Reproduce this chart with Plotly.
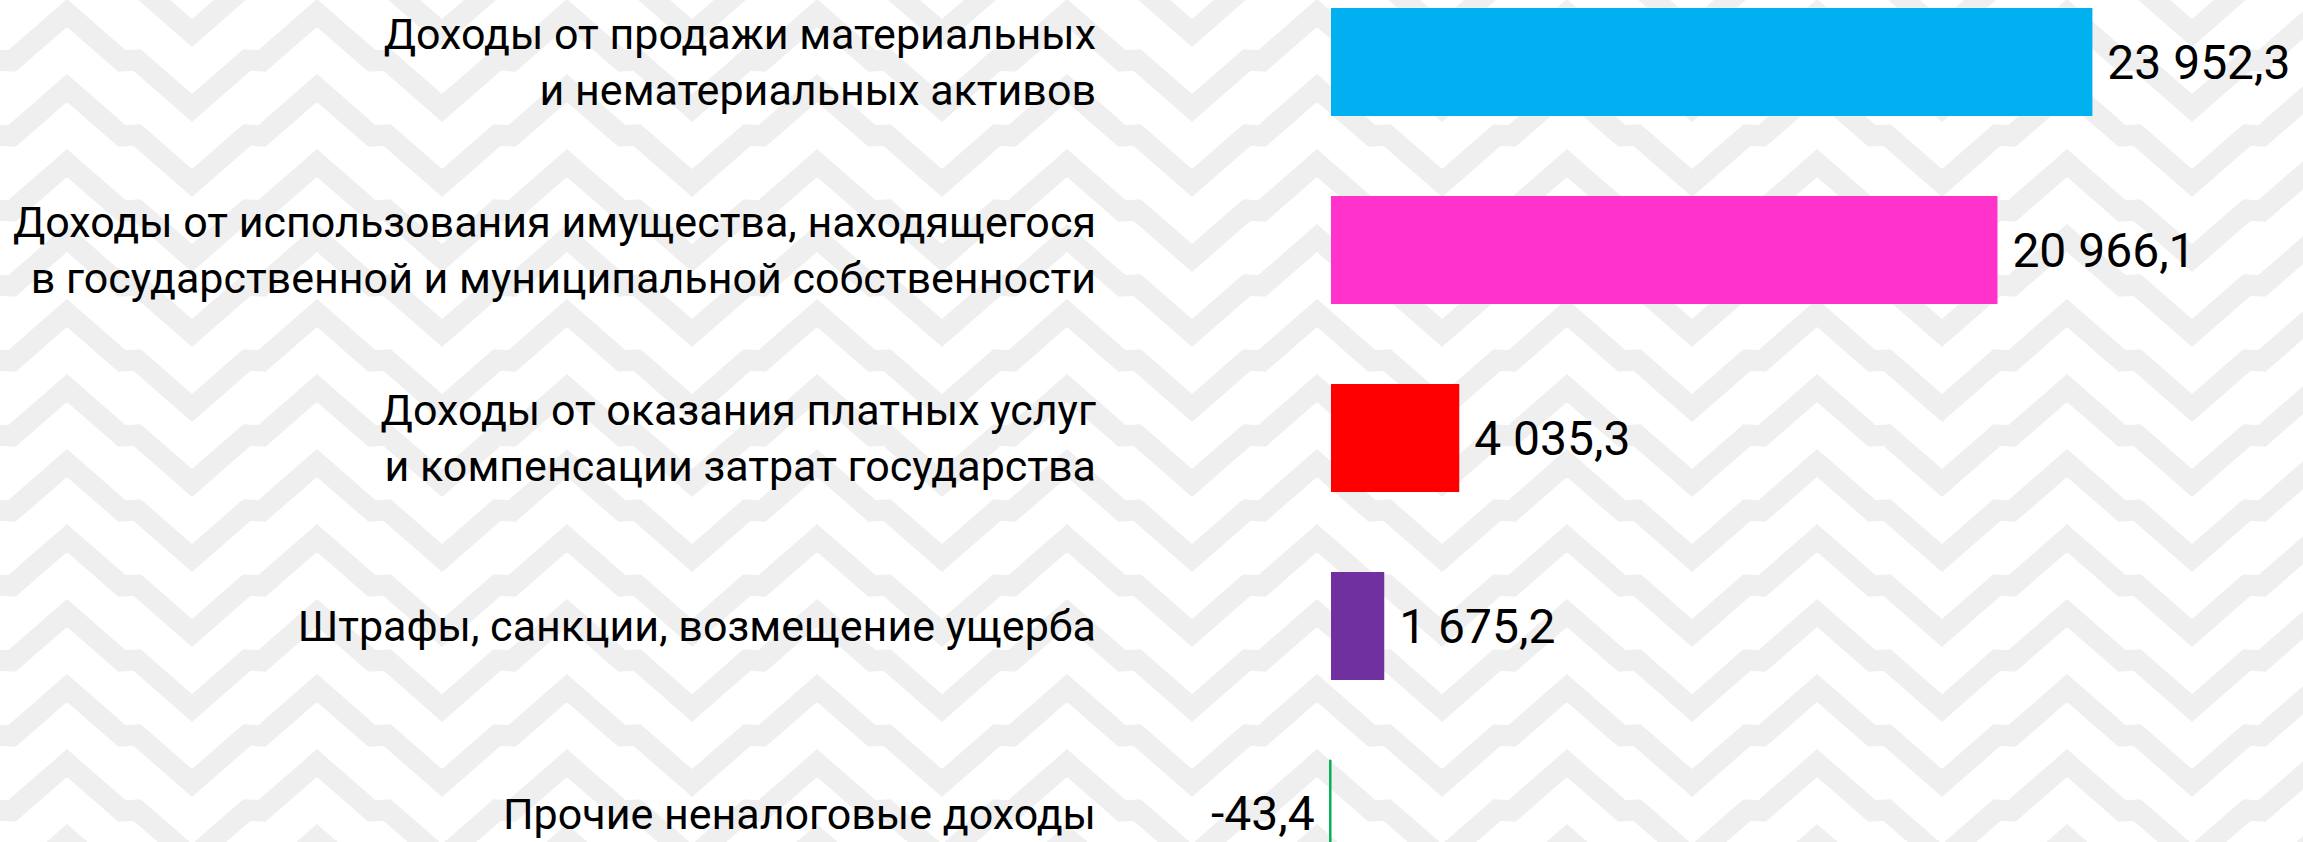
import plotly.graph_objects as go

# Данные (тыс. руб.)
categories = [
    "Доходы от продажи материальных<br>и нематериальных активов",
    "Доходы от использования имущества, находящегося<br>в государственной и муниципальной собственности",
    "Доходы от оказания платных услуг<br>и компенсации затрат государства",
    "Штрафы, санкции, возмещение ущерба",
    "Прочие неналоговые доходы",
]
values = [23952.3, 20966.1, 4035.3, 1675.2, -43.4]
colors = ["#00B0F0", "#FF33CC", "#FF0000", "#7030A0", "#00B050"]

W, H = 2303, 842
L = 1097  # левое поле под подписи категорий

def fmt(v):
    s = f"{abs(v):,.1f}".replace(",", " ").replace(".", ",")
    return ("-" if v < 0 else "") + s

labels = [(" " + fmt(v)) if v >= 0 else (fmt(v) + " ") for v in values]

fig = go.Figure(go.Bar(
    x=values, y=categories, orientation="h",
    marker=dict(color=colors, line=dict(color=colors, width=[0, 0, 0, 0, 1])),
    width=0.574,
    text=labels, textposition="outside", textangle=0, constraintext="none",
    textfont=dict(family="Roboto", size=48, color="black"),
    cliponaxis=False, hoverinfo="skip",
))

# фон-орнамент: светло-серые зигзаги на белом
shapes = []
def px2paper(px, py):
    return (px - L) / (W - L), 1 - py / H

period, amp, row_h = 250, 95, 75
for r in range(-3, 13):
    y0 = 13 + r * row_h
    pts = []
    for k in range(-1, 11):
        cx = 67 + k * period
        pts += [(cx, y0), (cx + 55, y0 + 48), (cx + 70, y0 + 47), (cx + 125, y0 + amp),
                (cx + 180, y0 + 47), (cx + 195, y0 + 48)]
    d = "M" + " L".join("%.4f,%.4f" % px2paper(*p) for p in pts)
    shapes.append(dict(type="path", path=d, xref="paper", yref="paper", layer="below",
                       line=dict(color="#efefef", width=21)))

fig.update_layout(
    width=W, height=H,
    margin=dict(l=L, r=0, t=0, b=0),
    paper_bgcolor="white", plot_bgcolor="rgba(0,0,0,0)",
    showlegend=False,
    shapes=shapes,
    font=dict(family="Roboto", color="black"),
    xaxis=dict(range=[-(1331 - L) / 0.031788, (W - 1331) / 0.031788],
               visible=False, showgrid=False, zeroline=False, fixedrange=True),
    yaxis=dict(range=[4.149, -0.330], showgrid=False, zeroline=False, showline=False,
               ticks="", automargin=False, ticklabelstandoff=0,
               tickfont=dict(family="Roboto", size=43, color="black"), fixedrange=True),
)

fig.write_html("out.html", config={"displayModeBar": False},
               post_script="document.body.style.margin='0';")
